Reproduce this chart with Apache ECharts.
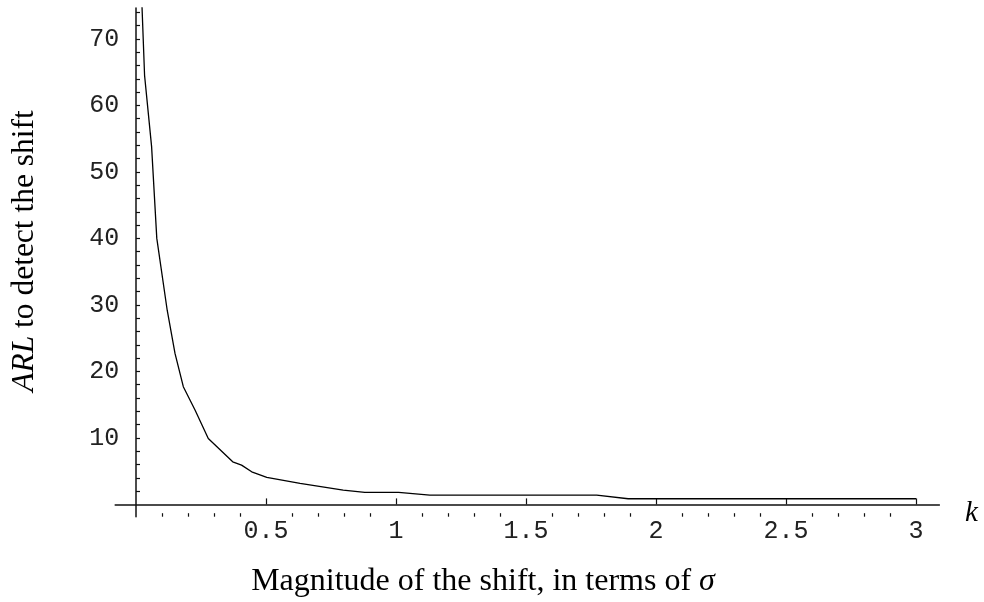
<!DOCTYPE html>
<html>
<head>
<meta charset="utf-8">
<script src="https://cdn.jsdelivr.net/npm/echarts@6/dist/echarts.min.js"></script>
<style>
  html, body { margin: 0; padding: 0; background: #fff; }
  #chart { width: 984px; height: 602px; }
</style>
</head>
<body>
<div id="chart"></div>
<script>
// ---- data ----
const kValues   = [0.022, 0.033, 0.060, 0.080, 0.120, 0.150, 0.182, 0.227, 0.278, 0.372, 0.406, 0.445, 0.503, 0.631, 0.797, 0.880, 1.010, 1.130, 1.772, 1.893, 3.000];
const arlValues = [76.0, 64.5, 53.8, 40.0, 29.2, 22.7, 17.7, 14.2, 9.9, 6.4, 5.9, 4.9, 4.06, 3.16, 2.15, 1.8, 1.8, 1.4, 1.4, 0.85, 0.85];

const xTickLabels = [0.5, 1, 1.5, 2, 2.5, 3];
const xMinorTicks = [0.1, 0.2, 0.3, 0.4, 0.6, 0.7, 0.8, 0.9, 1.1, 1.2, 1.3, 1.4, 1.6, 1.7, 1.8, 1.9, 2.1, 2.2, 2.3, 2.4, 2.6, 2.7, 2.8, 2.9];
const yTickLabels = [10, 20, 30, 40, 50, 60, 70];
const yTicks = [2, 4, 6, 8, 10, 12, 14, 16, 18, 20, 22, 24, 26, 28, 30, 32, 34, 36, 38, 40, 42, 44, 46, 48, 50, 52, 54, 56, 58, 60, 62, 64, 66, 68, 70, 72, 74];

const seriesData = kValues.map((k, i) => [k, arlValues[i]]);

const chart = echarts.init(document.getElementById('chart'), null, { renderer: 'canvas' });

const labelFont = 'Liberation Mono';
const axisColor = '#111';

chart.setOption({
  animation: false,
  backgroundColor: '#fff',
  grid: { left: 115.2, right: 44.6, top: 8, bottom: 85.3, containLabel: false },
  xAxis: [
    {
      type: 'value', min: -0.08, max: 3.09, position: 'bottom',
      splitLine: { show: false },
      axisLine: { show: true, onZero: true, lineStyle: { color: axisColor, width: 1.5 } },
      axisTick: { show: true, inside: true, length: 6, customValues: xTickLabels, lineStyle: { color: axisColor, width: 1.2 } },
      axisLabel: { show: true, customValues: xTickLabels, margin: 2.5, color: '#222', fontFamily: labelFont, fontSize: 25 }
    },
    {
      type: 'value', min: -0.08, max: 3.09, position: 'bottom',
      splitLine: { show: false },
      axisLine: { show: false, onZero: true },
      axisTick: { show: true, inside: true, length: 3.5, customValues: xMinorTicks, lineStyle: { color: axisColor, width: 1.2 } },
      axisLabel: { show: false }
    }
  ],
  yAxis: [
    {
      type: 'value', min: -1.85, max: 74.65, position: 'left',
      splitLine: { show: false },
      axisLine: { show: true, onZero: true, lineStyle: { color: axisColor, width: 1.5 } },
      axisTick: { show: true, inside: true, length: 4, customValues: yTicks, lineStyle: { color: axisColor, width: 1.2 } },
      axisLabel: { show: true, customValues: yTickLabels, margin: -4, color: '#222', fontFamily: labelFont, fontSize: 25 }
    }
  ],
  series: [
    {
      type: 'line',
      xAxisIndex: 0, yAxisIndex: 0,
      data: seriesData,
      showSymbol: false,
      symbol: 'none',
      clip: true,
      lineStyle: { color: '#000', width: 1.3 },
      silent: true
    }
  ],
  graphic: [
    {
      type: 'text', x: 24.5, y: 251, rotation: Math.PI / 2,
      style: {
        text: '{i|ARL} to detect the shift',
        fontFamily: 'Liberation Serif', fontSize: 31.5, fill: '#000',
        align: 'center', verticalAlign: 'middle', textAlign: 'center', textVerticalAlign: 'middle',
        rich: { i: { fontStyle: 'italic', fontFamily: 'Liberation Serif', fontSize: 31.5, fill: '#000' } }
      }
    },
    {
      type: 'text', x: 483, y: 582,
      style: {
        text: 'Magnitude of the shift, in terms of {i|σ}',
        fontFamily: 'Liberation Serif', fontSize: 32, fill: '#000',
        align: 'center', verticalAlign: 'middle', textAlign: 'center', textVerticalAlign: 'middle',
        rich: { i: { fontStyle: 'italic', fontFamily: 'Liberation Serif', fontSize: 32, fill: '#000' } }
      }
    },
    {
      type: 'text', x: 971.5, y: 513,
      style: {
        text: 'k',
        fontFamily: 'Liberation Serif', fontStyle: 'italic', fontSize: 29, fill: '#000',
        align: 'center', verticalAlign: 'middle', textAlign: 'center', textVerticalAlign: 'middle'
      }
    }
  ]
});
</script>
</body>
</html>
